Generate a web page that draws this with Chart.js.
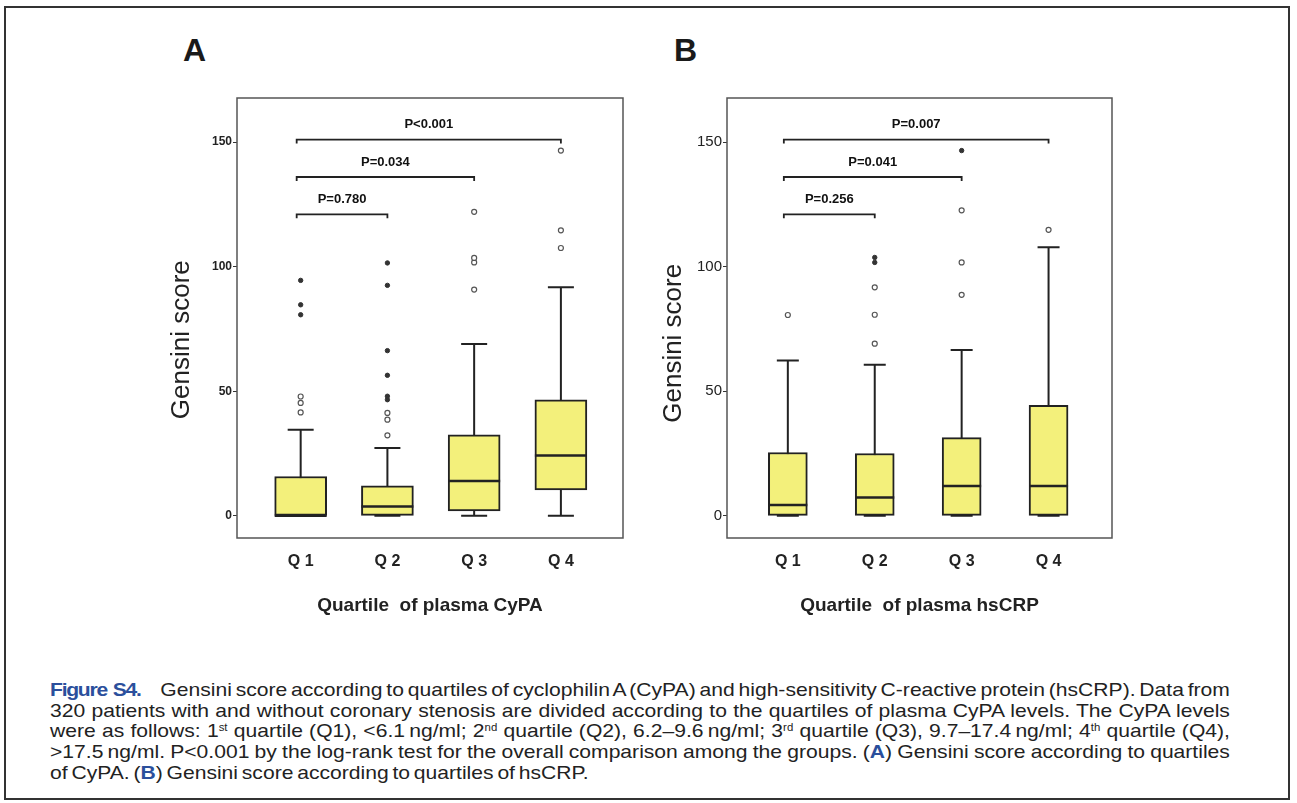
<!DOCTYPE html>
<html>
<head>
<meta charset="utf-8">
<script src="https://cdn.jsdelivr.net/npm/chart.js@4.4.1/dist/chart.umd.min.js"></script>
<style>
  body { margin: 0; background: #fff; width: 1297px; height: 803px; position: relative; overflow: hidden;
         font-family: 'Liberation Sans', Arial, sans-serif; color: #222; }
  #frame { position: absolute; left: 4px; top: 6px; width: 1286px; height: 794px; border: 2px solid #333; box-sizing: border-box; }
  .panel { position: absolute; font-weight: bold; font-size: 32px; line-height: 32px; top: 34px; color: #1a1a1a; }
  canvas { position: absolute; }
  #caption { position: absolute; left: 50px; top: 680px; width: 1035px; font-size: 18.5px; line-height: 20.7px; color: #222;
             transform: scaleX(1.14); transform-origin: left top; word-spacing: -1.8px; }
  #caption .ln { text-align: justify; text-align-last: justify; }
  #caption .ln.last { text-align-last: left; }
  #caption .fig { font-weight: bold; color: #2b4f9c; letter-spacing: -1.1px; word-spacing: 1px; margin-right: 14px; }
  #caption .blu { color: #2b4f9c; font-weight: bold; }
  #caption sup { font-size: 10px; line-height: 0; vertical-align: 6px; }
</style>
</head>
<body>
<div id="frame"></div>
<div class="panel" style="left:183px">A</div>
<div class="panel" style="left:674px">B</div>
<canvas id="chartA" width="520" height="560" style="left:120px; top:80px"></canvas>
<canvas id="chartB" width="500" height="560" style="left:640px; top:80px"></canvas>

<div id="caption">
  <div class="ln"><span class="fig">Figure S4.</span> Gensini score according to quartiles of cyclophilin A (CyPA) and high-sensitivity C-reactive protein (hsCRP). Data from</div>
  <div class="ln">320 patients with and without coronary stenosis are divided according to the quartiles of plasma CyPA levels. The CyPA levels</div>
  <div class="ln">were as follows: 1<sup>st</sup> quartile (Q1), &lt;6.1&#8201;ng/ml; 2<sup>nd</sup> quartile (Q2), 6.2–9.6&#8201;ng/ml; 3<sup>rd</sup> quartile (Q3), 9.7–17.4&#8201;ng/ml; 4<sup>th</sup> quartile (Q4),</div>
  <div class="ln">&gt;17.5&#8201;ng/ml. P&lt;0.001 by the log-rank test for the overall comparison among the groups. (<span class="blu">A</span>) Gensini score according to quartiles</div>
  <div class="ln last">of CyPA. (<span class="blu">B</span>) Gensini score according to quartiles of hsCRP.</div>
</div>

<script>
// ---- data ----
const categories = ['Q 1', 'Q 2', 'Q 3', 'Q 4'];
const yTickValues = [0, 50, 100, 150];

// painel A: quartis de CyPA
const cypaWhiskerLow = [0, 0, 0, 0];
const cypaBoxLow = [0, 0, 2, 10.4];
const cypaMedian = [0, 3.7, 14, 24.2];
const cypaBoxHigh = [15.8, 12, 32.5, 46.6];
const cypaWhiskerHigh = [34.5, 27.2, 69, 91.7];
const cypaOutliers = [[41.5, 45.3, 47.9], [32.3, 38.6, 41.3], [90.8, 101.7, 103.5, 122], [107.5, 114.6, 146.6]];
const cypaExtremes = [[80.7, 84.7, 94.5], [46.6, 48, 56.4, 66.3, 92.5, 101.5], [], []];
const cypaPText = ['P=0.780', 'P=0.034', 'P<0.001'];
const cypaPTo = [2, 3, 4];
const cypaPLevel = [121, 136, 151];

// painel B: quartis de hsCRP
const crpWhiskerLow = [0, 0, 0, 0];
const crpBoxLow = [0, 0, 0, 0];
const crpMedian = [4.3, 7.4, 12, 12];
const crpBoxHigh = [25.4, 25, 31.4, 44.3];
const crpWhiskerHigh = [62.3, 60.6, 66.6, 107.8];
const crpOutliers = [[80.6], [69.1, 80.7, 91.7], [88.7, 101.7, 122.6], [114.8]];
const crpExtremes = [[], [101.7, 103.7], [146.6], []];
const crpPText = ['P=0.256', 'P=0.041', 'P=0.007'];
const crpPTo = [2, 3, 4];
const crpPLevel = [121, 136, 151];

const FONT = "'Liberation Sans', Arial, sans-serif";
const INK = '#222';

// whiskers, medians, frame and P brackets drawn with the chart scales
function makeBoxPlugin(s, look) {
  return {
    id: 'boxParts',
    beforeDatasetsDraw(chart) {
      const { ctx } = chart;
      const x = chart.scales.x, y = chart.scales.y;
      ctx.save();
      ctx.strokeStyle = INK;
      ctx.lineWidth = 2;
      s.whiskerLow.forEach((lo, i) => {
        const px = x.getPixelForValue(i + 1);
        const hw = look.cap / 2;
        ctx.beginPath();
        ctx.moveTo(px, y.getPixelForValue(lo));
        ctx.lineTo(px, y.getPixelForValue(s.whiskerHigh[i]));
        [lo, s.whiskerHigh[i]].forEach(v => {
          const py = y.getPixelForValue(v);
          ctx.moveTo(px - hw, py);
          ctx.lineTo(px + hw, py);
        });
        ctx.stroke();
      });
      ctx.restore();
    },
    afterDatasetsDraw(chart) {
      const { ctx, chartArea: a } = chart;
      const x = chart.scales.x, y = chart.scales.y;
      ctx.save();
      // medians
      ctx.strokeStyle = INK;
      ctx.lineWidth = 2.5;
      s.median.forEach((m, i) => {
        const px = x.getPixelForValue(i + 1), py = y.getPixelForValue(m);
        ctx.beginPath();
        ctx.moveTo(px - look.box / 2, py);
        ctx.lineTo(px + look.box / 2, py);
        ctx.stroke();
      });
      // frame
      ctx.strokeStyle = '#555';
      ctx.lineWidth = 1.5;
      ctx.strokeRect(a.left, a.top, a.right - a.left, a.bottom - a.top);
      // brackets
      ctx.strokeStyle = INK;
      ctx.lineWidth = 1.8;
      ctx.fillStyle = '#111';
      ctx.font = look.pFont;
      ctx.textAlign = 'center';
      ctx.textBaseline = 'middle';
      s.pText.forEach((t, i) => {
        const x1 = x.getPixelForValue(1) - 4, x2 = x.getPixelForValue(s.pTo[i]);
        const py = y.getPixelForValue(s.pLevel[i]);
        ctx.beginPath();
        ctx.moveTo(x1, py + 4);
        ctx.lineTo(x1, py);
        ctx.lineTo(x2, py);
        ctx.lineTo(x2, py + 4);
        ctx.stroke();
        ctx.fillText(t, (x1 + x2) / 2, py - 15);
      });
      ctx.restore();
    }
  };
}

function buildPanel(canvasId, s, look) {
  const pts = groups => groups.flatMap((g, i) => g.map(v => ({ x: i + 1, y: v })));
  return new Chart(document.getElementById(canvasId), {
    type: 'bar',
    data: {
      datasets: [
        {
          data: categories.map((c, i) => ({ x: i + 1, y: [s.boxLow[i], s.boxHigh[i]] })),
          backgroundColor: '#f3f07b',
          borderColor: INK,
          borderWidth: 2,
          borderSkipped: false,
          barThickness: look.box
        },
        { type: 'scatter', data: pts(s.outliers), pointRadius: 2.5, borderWidth: 1.2, borderColor: '#555', backgroundColor: '#fff' },
        { type: 'scatter', data: pts(s.extremes), pointRadius: 2.2, borderWidth: 1, borderColor: '#333', backgroundColor: '#333' }
      ]
    },
    options: {
      responsive: false,
      animation: false,
      events: [],
      layout: { padding: { top: look.padTop, right: look.padRight } },
      plugins: { legend: { display: false }, tooltip: { enabled: false } },
      scales: {
        x: {
          type: 'linear', min: look.xMin, max: look.xMax, offset: false,
          afterBuildTicks: sc => { sc.ticks = categories.map((c, i) => ({ value: i + 1 })); },
          afterFit: sc => { sc.height = look.xAxisH; },
          grid: { display: false, drawTicks: false, offset: false },
          border: { display: false },
          ticks: { callback: v => categories[Math.round(v) - 1], font: { family: FONT, size: 16, weight: 'bold' }, color: INK, padding: 14, maxRotation: 0 },
          title: { display: true, text: s.xTitle, font: { family: FONT, size: 19, weight: 'bold' }, color: INK, padding: { top: 0, bottom: 23 } }
        },
        y: {
          min: -8.9, max: 167.7,
          afterBuildTicks: sc => { sc.ticks = yTickValues.map(v => ({ value: v })); },
          afterFit: sc => { sc.width = look.yAxisW; },
          grid: { drawOnChartArea: false, drawTicks: true, tickLength: 4, color: '#333' },
          border: { display: false },
          ticks: { font: look.yTickFont, color: INK, padding: 1 },
          title: {
            display: true,
            text: 'Gensini score' + '\u00a0'.repeat(look.titleShift),
            font: { family: FONT, size: 26 }, color: INK,
            padding: { top: look.yTitlePad, bottom: 0 }
          }
        }
      }
    },
    plugins: [makeBoxPlugin(s, look)]
  });
}

buildPanel('chartA', {
  whiskerLow: cypaWhiskerLow, boxLow: cypaBoxLow, median: cypaMedian, boxHigh: cypaBoxHigh, whiskerHigh: cypaWhiskerHigh,
  outliers: cypaOutliers, extremes: cypaExtremes, pText: cypaPText, pTo: cypaPTo, pLevel: cypaPLevel,
  xTitle: 'Quartile  of plasma CyPA'
}, {
  box: 52, cap: 26, xMin: 0.266, xMax: 4.716, padTop: 18, padRight: 17, xAxisH: 102, yAxisW: 117,
  yTitlePad: 46, titleShift: 6, yTickFont: { family: FONT, size: 12, weight: 'bold' }, pFont: 'bold 13px ' + FONT
});

buildPanel('chartB', {
  whiskerLow: crpWhiskerLow, boxLow: crpBoxLow, median: crpMedian, boxHigh: crpBoxHigh, whiskerHigh: crpWhiskerHigh,
  outliers: crpOutliers, extremes: crpExtremes, pText: crpPText, pTo: crpPTo, pLevel: crpPLevel,
  xTitle: 'Quartile  of plasma hsCRP'
}, {
  box: 39, cap: 22, xMin: 0.30, xMax: 4.73, padTop: 18, padRight: 28, xAxisH: 102, yAxisW: 87,
  yTitlePad: 18, titleShift: 7, yTickFont: { family: FONT, size: 15 }, pFont: 'bold 13px ' + FONT
});
</script>
</body>
</html>
